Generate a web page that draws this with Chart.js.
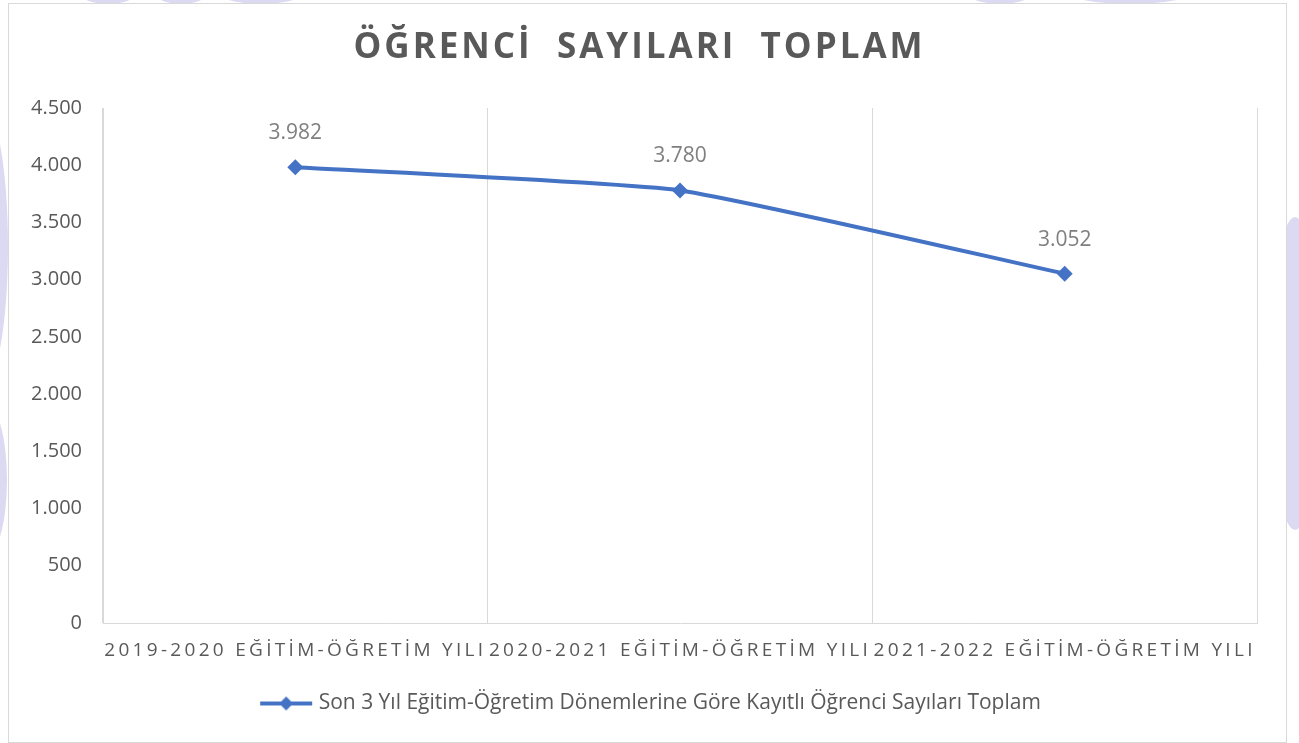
<!DOCTYPE html>
<html lang="tr">
<head>
<meta charset="utf-8">
<title>Öğrenci Sayıları Toplam</title>
<script src="https://cdn.jsdelivr.net/npm/chart.js@4.4.1/dist/chart.umd.min.js"></script>
<style>
  html, body { margin: 0; padding: 0; background: #fff; }
  body { width: 1299px; height: 743px; position: relative; overflow: hidden; font-family: "Open Sans", sans-serif; }
  .wm { position: absolute; background: #dcdaf3; border-radius: 50%; }
  #frame { position: absolute; left: 8px; top: 3px; width: 1277px; height: 738px; border: 1px solid #d9d9d9; background: #fff; z-index: 1; }
  #frame canvas { display: block; }
</style>
</head>
<body>
<!-- soluk arka plan filigranı -->
<div class="wm" style="left:79px;top:-20px;width:58px;height:24px"></div>
<div class="wm" style="left:154px;top:-20px;width:54px;height:24px"></div>
<div class="wm" style="left:218px;top:-20px;width:86px;height:24px"></div>
<div class="wm" style="left:967px;top:-20px;width:66px;height:24px"></div>
<div class="wm" style="left:1068px;top:-20px;width:124px;height:24px"></div>
<div class="wm" style="left:-40px;top:110px;width:48px;height:273px"></div>
<div class="wm" style="left:-40px;top:400px;width:47px;height:160px"></div>
<div class="wm" style="left:1270px;top:217px;width:50px;height:313px"></div>

<div id="frame"><canvas id="myChart" width="1277" height="738"></canvas></div>

<script>
const years = ['2019-2020 EĞİTİM-ÖĞRETİM YILI', '2020-2021 EĞİTİM-ÖĞRETİM YILI', '2021-2022 EĞİTİM-ÖĞRETİM YILI']
const ogrenciToplam = [3982, 3780, 3052]
const yMin = 0
const yMax = 4500
const yStep = 500
const seriesName = 'Son 3 Yıl Eğitim-Öğretim Dönemlerine Göre Kayıtlı Öğrenci Sayıları Toplam'
const chartTitle = 'ÖĞRENCİ  SAYILARI  TOPLAM'

const blue = '#4472c4'
const gray = '#595959'
const lineGray = '#d9d9d9'

// 4500 -> "4.500"
function fmt(v) {
  return String(v).replace(/\B(?=(\d{3})+(?!\d))/g, '.')
}

function legendMarker() {
  let c = document.createElement('canvas')
  c.width = 56
  c.height = 18
  let g = c.getContext('2d')
  g.strokeStyle = blue
  g.lineWidth = 4
  g.beginPath()
  g.moveTo(2, 9)
  g.lineTo(54, 9)
  g.stroke()
  g.fillStyle = blue
  g.beginPath()
  g.moveTo(28, 2)
  g.lineTo(35, 9)
  g.lineTo(28, 16)
  g.lineTo(21, 9)
  g.closePath()
  g.fill()
  return c
}

// wrap a box's draw with letter spacing / small shift
function wrapDraw(obj, key, spacingPx, dx) {
  if (!obj || obj['_w_' + key]) return
  let base = obj[key]
  obj[key] = function (area) {
    this.ctx.save()
    this.ctx.letterSpacing = spacingPx + 'px'
    this.ctx.translate(dx, 0)
    base.call(this, area)
    this.ctx.restore()
  }
  obj['_w_' + key] = true
}

const spacing = {
  id: 'spacing',
  beforeDraw(chart) {
    wrapDraw(chart.scales.x, 'drawLabels', 3.3, 0)
    wrapDraw(chart.titleBlock, 'draw', 3, 6.5)
    wrapDraw(chart.legend, 'draw', 0, 19.5)
  }
}

const valueLabels = {
  id: 'valueLabels',
  afterDatasetsDraw(chart) {
    let ctx = chart.ctx
    let meta = chart.getDatasetMeta(0)
    ctx.save()
    ctx.font = '21px "Open Sans"'
    ctx.fillStyle = '#7f7f7f'
    ctx.textAlign = 'center'
    ctx.textBaseline = 'middle'
    meta.data.forEach((pt, i) => {
      ctx.fillText(fmt(ogrenciToplam[i]), pt.x, pt.y - 34)
    })
    ctx.restore()
  }
}

const ctx = document.getElementById('myChart')

new Chart(ctx, {
  type: 'line',
  data: {
    labels: years,
    datasets: [{
      label: seriesName,
      data: ogrenciToplam,
      borderColor: blue,
      backgroundColor: blue,
      borderWidth: 4,
      tension: 0.15,
      pointStyle: 'rectRot',
      pointRadius: 8,
      pointHoverRadius: 8,
      pointBorderWidth: 0,
      pointBackgroundColor: blue,
    }],
  },
  options: {
    responsive: false,
    animation: false,
    layout: {
      padding: { left: 0, right: 29, top: 0, bottom: 18 }
    },
    plugins: {
      title: {
        display: true,
        text: chartTitle,
        color: gray,
        font: { family: '"Open Sans"', size: 35, weight: 'bold' },
        padding: { top: 23, bottom: 39 }
      },
      legend: {
        position: 'bottom',
        labels: {
          usePointStyle: true,
          pointStyle: legendMarker(),
          pointStyleWidth: 44,
          color: gray,
          font: { family: '"Open Sans"', size: 21 },
          padding: 10
        }
      },
      tooltip: { enabled: false }
    },
    scales: {
      x: {
        offset: true,
        grid: { display: true, offset: true, color: lineGray, lineWidth: 1, drawTicks: false },
        border: { display: true, color: lineGray, width: 1 },
        ticks: {
          color: gray,
          font: { family: '"Open Sans"', size: 19 },
          padding: 16,
          maxRotation: 0,
          autoSkip: false
        },
        afterFit(scale) { scale.height = 60 }
      },
      y: {
        min: yMin,
        max: yMax,
        grid: { display: false, drawTicks: false },
        border: { display: true, color: lineGray, width: 1 },
        ticks: {
          stepSize: yStep,
          color: gray,
          font: { family: '"Open Sans"', size: 20 },
          padding: 21,
          callback: (v) => fmt(v)
        },
        afterFit(scale) { scale.width = 94 }
      }
    }
  },
  plugins: [spacing, valueLabels]
});
</script>
</body>
</html>
